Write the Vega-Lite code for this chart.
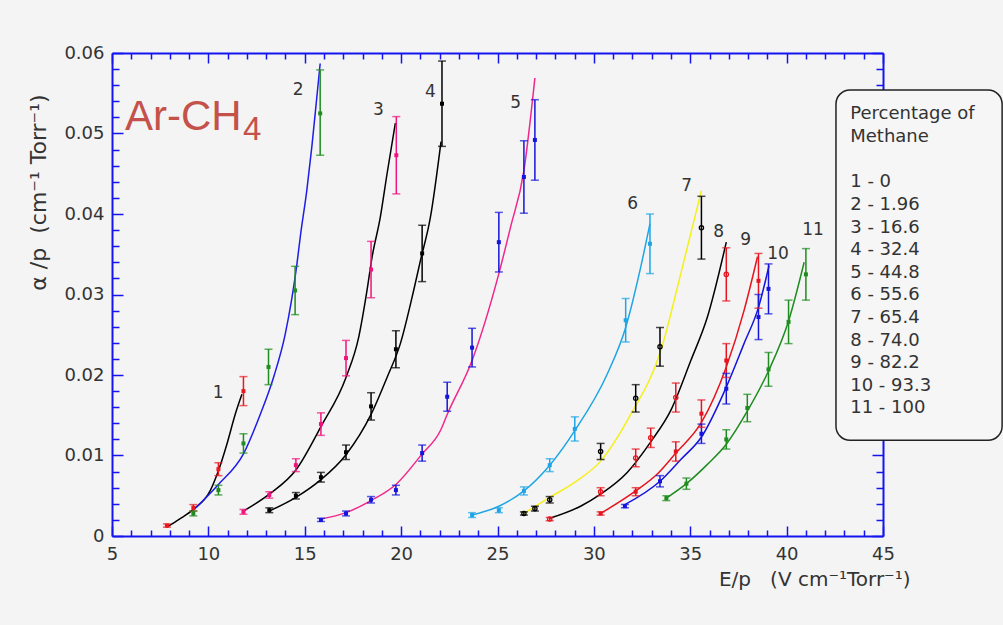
{
  "$schema": "https://vega.github.io/schema/vega-lite/v6.json",
  "width": 771,
  "height": 483,
  "autosize": {"type": "none"},
  "padding": {"left": 112, "top": 53, "right": 120, "bottom": 89},
  "background": "#f4f4f4",
  "config": {"view": {"stroke": null}, "font": "DejaVu Sans"},
  "datasets": {
    "pts": [
      {"s": "1", "x": 7.85, "y": 0.0013, "lo": 0.0011, "hi": 0.0015},
      {"s": "1", "x": 9.22, "y": 0.0035, "lo": 0.0031, "hi": 0.0039},
      {"s": "1", "x": 10.52, "y": 0.0083, "lo": 0.0075, "hi": 0.0091},
      {"s": "1", "x": 11.82, "y": 0.018, "lo": 0.0162, "hi": 0.0198},
      {"s": "2", "x": 9.22, "y": 0.0028, "lo": 0.0025, "hi": 0.0031},
      {"s": "2", "x": 10.52, "y": 0.0057, "lo": 0.0051, "hi": 0.0063},
      {"s": "2", "x": 11.82, "y": 0.0115, "lo": 0.0103, "hi": 0.0127},
      {"s": "2", "x": 13.12, "y": 0.021, "lo": 0.0188, "hi": 0.0232},
      {"s": "2", "x": 14.5, "y": 0.0305, "lo": 0.0275, "hi": 0.0335},
      {"s": "2", "x": 15.8, "y": 0.0525, "lo": 0.0473, "hi": 0.0579},
      {"s": "3", "x": 11.82, "y": 0.003, "lo": 0.0027, "hi": 0.0033},
      {"s": "3", "x": 13.16, "y": 0.0051, "lo": 0.0047, "hi": 0.0055},
      {"s": "3", "x": 14.54, "y": 0.0088, "lo": 0.008, "hi": 0.0096},
      {"s": "3", "x": 15.84, "y": 0.0139, "lo": 0.0125, "hi": 0.0153},
      {"s": "3", "x": 17.14, "y": 0.0221, "lo": 0.0199, "hi": 0.0243},
      {"s": "3", "x": 18.44, "y": 0.0331, "lo": 0.0296, "hi": 0.0366},
      {"s": "3", "x": 19.75, "y": 0.0473, "lo": 0.0425, "hi": 0.0521},
      {"s": "4", "x": 13.16, "y": 0.0032, "lo": 0.0029, "hi": 0.0035},
      {"s": "4", "x": 14.54, "y": 0.005, "lo": 0.0046, "hi": 0.0054},
      {"s": "4", "x": 15.84, "y": 0.0073, "lo": 0.0067, "hi": 0.0079},
      {"s": "4", "x": 17.14, "y": 0.0104, "lo": 0.0095, "hi": 0.0113},
      {"s": "4", "x": 18.44, "y": 0.0161, "lo": 0.0144, "hi": 0.0178},
      {"s": "4", "x": 19.73, "y": 0.0232, "lo": 0.0209, "hi": 0.0255},
      {"s": "4", "x": 21.09, "y": 0.0351, "lo": 0.0316, "hi": 0.0386},
      {"s": "4", "x": 22.12, "y": 0.0537, "lo": 0.0484, "hi": 0.059},
      {"s": "5", "x": 15.84, "y": 0.002, "lo": 0.0018, "hi": 0.0022},
      {"s": "5", "x": 17.14, "y": 0.0028, "lo": 0.0025, "hi": 0.0031},
      {"s": "5", "x": 18.44, "y": 0.0045, "lo": 0.0041, "hi": 0.0049},
      {"s": "5", "x": 19.73, "y": 0.0057, "lo": 0.0051, "hi": 0.0063},
      {"s": "5", "x": 21.09, "y": 0.0103, "lo": 0.0093, "hi": 0.0113},
      {"s": "5", "x": 22.39, "y": 0.0173, "lo": 0.0155, "hi": 0.0191},
      {"s": "5", "x": 23.68, "y": 0.0234, "lo": 0.021, "hi": 0.0258},
      {"s": "5", "x": 25.07, "y": 0.0365, "lo": 0.0328, "hi": 0.0402},
      {"s": "5", "x": 26.37, "y": 0.0446, "lo": 0.0401, "hi": 0.0491},
      {"s": "5", "x": 26.94, "y": 0.0492, "lo": 0.0442, "hi": 0.0542},
      {"s": "6", "x": 23.68, "y": 0.0026, "lo": 0.0023, "hi": 0.0029},
      {"s": "6", "x": 25.07, "y": 0.0032, "lo": 0.0029, "hi": 0.0035},
      {"s": "6", "x": 26.37, "y": 0.0056, "lo": 0.0051, "hi": 0.0061},
      {"s": "6", "x": 27.71, "y": 0.0088, "lo": 0.008, "hi": 0.0096},
      {"s": "6", "x": 29.01, "y": 0.0133, "lo": 0.0118, "hi": 0.0148},
      {"s": "6", "x": 31.65, "y": 0.0268, "lo": 0.0241, "hi": 0.0295},
      {"s": "6", "x": 32.91, "y": 0.0363, "lo": 0.0326, "hi": 0.04},
      {"s": "7", "x": 26.37, "y": 0.0028, "lo": 0.0026, "hi": 0.003},
      {"s": "7", "x": 26.94, "y": 0.0034, "lo": 0.0031, "hi": 0.0037},
      {"s": "7", "x": 27.71, "y": 0.0045, "lo": 0.0041, "hi": 0.0049},
      {"s": "7", "x": 30.35, "y": 0.0105, "lo": 0.0095, "hi": 0.0115},
      {"s": "7", "x": 32.17, "y": 0.0171, "lo": 0.0154, "hi": 0.0188},
      {"s": "7", "x": 33.43, "y": 0.0235, "lo": 0.0211, "hi": 0.0259},
      {"s": "7", "x": 35.58, "y": 0.0383, "lo": 0.0344, "hi": 0.0422},
      {"s": "8", "x": 27.71, "y": 0.0021, "lo": 0.0019, "hi": 0.0023},
      {"s": "8", "x": 30.35, "y": 0.0055, "lo": 0.005, "hi": 0.006},
      {"s": "8", "x": 32.17, "y": 0.0097, "lo": 0.0086, "hi": 0.0108},
      {"s": "8", "x": 32.95, "y": 0.0122, "lo": 0.011, "hi": 0.0134},
      {"s": "8", "x": 34.25, "y": 0.0172, "lo": 0.0154, "hi": 0.019},
      {"s": "8", "x": 36.87, "y": 0.0325, "lo": 0.0292, "hi": 0.0358},
      {"s": "9", "x": 30.35, "y": 0.0028, "lo": 0.0026, "hi": 0.003},
      {"s": "9", "x": 32.17, "y": 0.0055, "lo": 0.005, "hi": 0.006},
      {"s": "9", "x": 34.25, "y": 0.0105, "lo": 0.0093, "hi": 0.0117},
      {"s": "9", "x": 35.58, "y": 0.0152, "lo": 0.0135, "hi": 0.0169},
      {"s": "9", "x": 36.87, "y": 0.0218, "lo": 0.0197, "hi": 0.0239},
      {"s": "9", "x": 38.54, "y": 0.0317, "lo": 0.0283, "hi": 0.0351},
      {"s": "10", "x": 31.61, "y": 0.0037, "lo": 0.0035, "hi": 0.0039},
      {"s": "10", "x": 33.43, "y": 0.0068, "lo": 0.0061, "hi": 0.0075},
      {"s": "10", "x": 35.58, "y": 0.0127, "lo": 0.0115, "hi": 0.0139},
      {"s": "10", "x": 36.87, "y": 0.0183, "lo": 0.0164, "hi": 0.0202},
      {"s": "10", "x": 38.54, "y": 0.0272, "lo": 0.0244, "hi": 0.03},
      {"s": "10", "x": 39.06, "y": 0.0307, "lo": 0.0276, "hi": 0.0338},
      {"s": "11", "x": 33.76, "y": 0.0047, "lo": 0.0044, "hi": 0.005},
      {"s": "11", "x": 34.8, "y": 0.0065, "lo": 0.0058, "hi": 0.0072},
      {"s": "11", "x": 36.87, "y": 0.012, "lo": 0.0108, "hi": 0.0132},
      {"s": "11", "x": 37.96, "y": 0.0159, "lo": 0.0142, "hi": 0.0176},
      {"s": "11", "x": 39.06, "y": 0.0207, "lo": 0.0186, "hi": 0.0228},
      {"s": "11", "x": 40.1, "y": 0.0266, "lo": 0.0239, "hi": 0.0293},
      {"s": "11", "x": 41.0, "y": 0.0325, "lo": 0.0293, "hi": 0.0357}
    ],
    "fit": [
      {"s": "1", "x": 7.84, "y": 0.0011},
      {"s": "1", "x": 8.5, "y": 0.0021},
      {"s": "1", "x": 9.22, "y": 0.0033},
      {"s": "1", "x": 10.09, "y": 0.0056},
      {"s": "1", "x": 10.52, "y": 0.0081},
      {"s": "1", "x": 10.96, "y": 0.0114},
      {"s": "1", "x": 11.39, "y": 0.0151},
      {"s": "1", "x": 11.74, "y": 0.0176},
      {"s": "2", "x": 9.22, "y": 0.0032},
      {"s": "2", "x": 10.52, "y": 0.0064},
      {"s": "2", "x": 11.82, "y": 0.0102},
      {"s": "2", "x": 12.69, "y": 0.0151},
      {"s": "2", "x": 13.38, "y": 0.0197},
      {"s": "2", "x": 13.99, "y": 0.0251},
      {"s": "2", "x": 14.6, "y": 0.0339},
      {"s": "2", "x": 14.77, "y": 0.0372},
      {"s": "2", "x": 15.11, "y": 0.043},
      {"s": "2", "x": 15.37, "y": 0.0484},
      {"s": "2", "x": 15.63, "y": 0.0546},
      {"s": "2", "x": 15.8, "y": 0.0587},
      {"s": "3", "x": 11.82, "y": 0.0031},
      {"s": "3", "x": 13.16, "y": 0.0052},
      {"s": "3", "x": 14.54, "y": 0.0082},
      {"s": "3", "x": 15.84, "y": 0.0136},
      {"s": "3", "x": 17.14, "y": 0.0197},
      {"s": "3", "x": 17.8, "y": 0.0247},
      {"s": "3", "x": 18.23, "y": 0.0305},
      {"s": "3", "x": 18.49, "y": 0.0346},
      {"s": "3", "x": 18.92, "y": 0.0396},
      {"s": "3", "x": 19.27, "y": 0.045},
      {"s": "3", "x": 19.7, "y": 0.0513},
      {"s": "4", "x": 13.16, "y": 0.0031},
      {"s": "4", "x": 14.54, "y": 0.0048},
      {"s": "4", "x": 15.84, "y": 0.007},
      {"s": "4", "x": 17.14, "y": 0.0101},
      {"s": "4", "x": 18.44, "y": 0.0151},
      {"s": "4", "x": 19.27, "y": 0.0197},
      {"s": "4", "x": 19.96, "y": 0.0239},
      {"s": "4", "x": 20.65, "y": 0.0305},
      {"s": "4", "x": 21.0, "y": 0.0342},
      {"s": "4", "x": 21.52, "y": 0.0396},
      {"s": "4", "x": 22.07, "y": 0.049},
      {"s": "5", "x": 15.84, "y": 0.0021},
      {"s": "5", "x": 17.14, "y": 0.0029},
      {"s": "5", "x": 18.44, "y": 0.0044},
      {"s": "5", "x": 19.73, "y": 0.0064},
      {"s": "5", "x": 21.09, "y": 0.0102},
      {"s": "5", "x": 22.04, "y": 0.0131},
      {"s": "5", "x": 22.39, "y": 0.0151},
      {"s": "5", "x": 23.68, "y": 0.0218},
      {"s": "5", "x": 25.07, "y": 0.0326},
      {"s": "5", "x": 25.68, "y": 0.0384},
      {"s": "5", "x": 26.37, "y": 0.0454},
      {"s": "5", "x": 26.94, "y": 0.0569},
      {"s": "6", "x": 23.68, "y": 0.0026},
      {"s": "6", "x": 25.07, "y": 0.0037},
      {"s": "6", "x": 26.37, "y": 0.0056},
      {"s": "6", "x": 27.71, "y": 0.0088},
      {"s": "6", "x": 29.01, "y": 0.0131},
      {"s": "6", "x": 30.69, "y": 0.0201},
      {"s": "6", "x": 31.65, "y": 0.0259},
      {"s": "6", "x": 32.43, "y": 0.0334},
      {"s": "6", "x": 32.91, "y": 0.0388},
      {"s": "7", "x": 26.37, "y": 0.0028},
      {"s": "7", "x": 27.71, "y": 0.0048},
      {"s": "7", "x": 28.96, "y": 0.0066},
      {"s": "7", "x": 30.35, "y": 0.0093},
      {"s": "7", "x": 31.91, "y": 0.0151},
      {"s": "7", "x": 33.47, "y": 0.023},
      {"s": "7", "x": 34.51, "y": 0.0326},
      {"s": "7", "x": 35.58, "y": 0.0429},
      {"s": "8", "x": 27.71, "y": 0.0022},
      {"s": "8", "x": 29.31, "y": 0.0037},
      {"s": "8", "x": 30.35, "y": 0.0052},
      {"s": "8", "x": 31.73, "y": 0.0079},
      {"s": "8", "x": 32.95, "y": 0.0117},
      {"s": "8", "x": 33.99, "y": 0.0156},
      {"s": "8", "x": 35.03, "y": 0.0218},
      {"s": "8", "x": 35.89, "y": 0.0272},
      {"s": "8", "x": 36.87, "y": 0.0365},
      {"s": "9", "x": 30.35, "y": 0.0028},
      {"s": "9", "x": 32.17, "y": 0.0056},
      {"s": "9", "x": 33.29, "y": 0.0077},
      {"s": "9", "x": 34.25, "y": 0.0103},
      {"s": "9", "x": 35.58, "y": 0.0141},
      {"s": "9", "x": 36.87, "y": 0.021},
      {"s": "9", "x": 37.79, "y": 0.028},
      {"s": "9", "x": 38.49, "y": 0.0347},
      {"s": "10", "x": 31.61, "y": 0.0039},
      {"s": "10", "x": 33.43, "y": 0.0068},
      {"s": "10", "x": 34.51, "y": 0.0095},
      {"s": "10", "x": 35.58, "y": 0.0123},
      {"s": "10", "x": 36.87, "y": 0.0185},
      {"s": "10", "x": 37.79, "y": 0.0239},
      {"s": "10", "x": 38.54, "y": 0.0284},
      {"s": "10", "x": 39.09, "y": 0.0336},
      {"s": "11", "x": 33.76, "y": 0.0047},
      {"s": "11", "x": 34.8, "y": 0.0065},
      {"s": "11", "x": 35.89, "y": 0.0089},
      {"s": "11", "x": 36.87, "y": 0.0114},
      {"s": "11", "x": 37.96, "y": 0.0155},
      {"s": "11", "x": 39.06, "y": 0.0205},
      {"s": "11", "x": 40.1, "y": 0.0267},
      {"s": "11", "x": 40.91, "y": 0.034}
    ],
    "lab": [
      {"t": "1", "x": 10.51, "y": 0.0178},
      {"t": "2", "x": 14.66, "y": 0.0554},
      {"t": "3", "x": 18.82, "y": 0.0529},
      {"t": "4", "x": 21.52, "y": 0.0552},
      {"t": "5", "x": 25.94, "y": 0.0538},
      {"t": "6", "x": 32.01, "y": 0.0412},
      {"t": "7", "x": 34.82, "y": 0.0435},
      {"t": "8", "x": 36.48, "y": 0.0378},
      {"t": "9", "x": 37.88, "y": 0.0368},
      {"t": "10", "x": 39.55, "y": 0.035},
      {"t": "11", "x": 41.37, "y": 0.038}
    ],
    "ann": [
      {"t": "Ar-CH", "sub": "4", "x": 5.675, "xs": 11.8, "y": 0.0504, "ys": 0.0492}
    ],
    "leg": [
      {"part": "head", "lines": ["Percentage of", "Methane"]},
      {"part": "body", "lines": ["1 - 0", "2 - 1.96", "3 - 16.6", "4 - 32.4", "5 - 44.8", "6 - 55.6", "7 - 65.4", "8 - 74.0", "9 - 82.2", "10 - 93.3", "11 - 100"]}
    ]
  },
  "layer": [
    {
      "data": {"name": "fit"},
      "mark": {"type": "line", "strokeWidth": 1.5, "interpolate": "monotone"},
      "encoding": {
        "x": {
          "field": "x", "type": "quantitative",
          "scale": {"domain": [5, 45], "nice": false, "zero": false},
          "axis": {
            "orient": "bottom",
            "values": [5,6,7,8,9,10,11,12,13,14,15,16,17,18,19,20,21,22,23,24,25,26,27,28,29,30,31,32,33,34,35,36,37,38,39,40,41,42,43,44,45],
            "grid": false,
            "domainColor": "#1414f0", "domainWidth": 2,
            "tickColor": "#1414f0", "tickWidth": 1.5,
            "tickSize": {"condition": {"test": "datum.value % 5 === 0", "value": -10}, "value": -6},
            "labelExpr": "datum.value % 5 === 0 ? datum.label : ''",
            "labelOverlap": false, "labelFlush": false,
            "labelFontSize": 18, "labelColor": "#333333", "labelPadding": 19,
            "title": "E/p\u00a0\u00a0\u00a0(V cm⁻¹Torr⁻¹)",
            "titleFontSize": 20, "titleFontWeight": "normal", "titleColor": "#333333",
            "titleAlign": "right", "titleBaseline": "middle",
            "titleX": 798, "titleY": 43
          }
        },
        "y": {
          "field": "y", "type": "quantitative",
          "scale": {"domain": [0, 0.06], "nice": false, "zero": false},
          "axis": {
            "orient": "left",
            "values": [0,0.002,0.004,0.006,0.008,0.01,0.012,0.014,0.016,0.018,0.02,0.022,0.024,0.026,0.028,0.03,0.032,0.034,0.036,0.038,0.04,0.042,0.044,0.046,0.048,0.05,0.052,0.054,0.056,0.058,0.06],
            "grid": false,
            "domainColor": "#1414f0", "domainWidth": 2,
            "tickColor": "#1414f0", "tickWidth": 1.5,
            "tickSize": {"condition": {"test": "round(datum.value * 1000) % 10 === 0", "value": -11}, "value": -7},
            "labelExpr": "round(datum.value * 1000) % 10 === 0 ? (datum.value === 0 ? '0' : format(datum.value, '.2f')) : ''",
            "labelOverlap": false, "labelFlush": false,
            "labelFontSize": 18, "labelColor": "#333333", "labelPadding": 19,
            "title": "α /p\u00a0\u00a0(cm⁻¹ Torr⁻¹)",
            "titleFontSize": 22, "titleFontWeight": "normal", "titleColor": "#333333",
            "titleAngle": -90, "titleAlign": "center", "titleBaseline": "middle",
            "titleX": -74, "titleY": 139
          }
        },
        "stroke": {
          "field": "s", "type": "nominal",
          "scale": {"domain": ["1","2","3","4","5","6","7","8","9","10","11"], "range": ["#000000","#1e1ee6","#000000","#000000","#f0288c","#1ea5e6","#f5ef1a","#000000","#e6141e","#1414dc","#1e8c1e"]},
          "legend": null
        }
      }
    },
    {
      "data": {"name": "pts"},
      "mark": {"type": "rule", "strokeWidth": 1.5},
      "encoding": {
        "x": {
          "field": "x", "type": "quantitative",
          "axis": {
            "orient": "top",
            "values": [5,6,7,8,9,10,11,12,13,14,15,16,17,18,19,20,21,22,23,24,25,26,27,28,29,30,31,32,33,34,35,36,37,38,39,40,41,42,43,44,45],
            "grid": false, "labels": false, "title": null,
            "domainColor": "#1414f0", "domainWidth": 2,
            "tickColor": "#1414f0", "tickWidth": 1.5,
            "tickSize": {"condition": {"test": "datum.value % 5 === 0", "value": -10}, "value": -6}
          }
        },
        "y": {
          "field": "lo", "type": "quantitative",
          "axis": {
            "orient": "right",
            "values": [0,0.002,0.004,0.006,0.008,0.01,0.012,0.014,0.016,0.018,0.02,0.022,0.024,0.026,0.028,0.03,0.032,0.034,0.036,0.038,0.04,0.042,0.044,0.046,0.048,0.05,0.052,0.054,0.056,0.058,0.06],
            "grid": false, "labels": false, "title": null,
            "domainColor": "#1414f0", "domainWidth": 2,
            "tickColor": "#1414f0", "tickWidth": 1.5,
            "tickSize": {"condition": {"test": "round(datum.value * 1000) % 10 === 0", "value": -11}, "value": -7}
          }
        },
        "y2": {"field": "hi"},
        "color": {
          "field": "s", "type": "nominal",
          "scale": {"domain": ["1","2","3","4","5","6","7","8","9","10","11"], "range": ["#e8191f","#1e8c1e","#f0147c","#000000","#1414dc","#1ea5e6","#000000","#e6141e","#e6141e","#1414dc","#1e8c1e"]},
          "legend": null
        }
      }
    },
    {
      "data": {"name": "pts"},
      "mark": {"type": "tick", "orient": "horizontal", "size": 8, "thickness": 1.5},
      "encoding": {
        "x": {"field": "x", "type": "quantitative", "axis": null},
        "y": {"field": "lo", "type": "quantitative", "axis": null},
        "color": {"field": "s", "type": "nominal", "legend": null}
      }
    },
    {
      "data": {"name": "pts"},
      "mark": {"type": "tick", "orient": "horizontal", "size": 8, "thickness": 1.5},
      "encoding": {
        "x": {"field": "x", "type": "quantitative", "axis": null},
        "y": {"field": "hi", "type": "quantitative", "axis": null},
        "color": {"field": "s", "type": "nominal", "legend": null}
      }
    },
    {
      "data": {"name": "pts"},
      "transform": [{"filter": "datum.s !== '7' && datum.s !== '8'"}],
      "mark": {"type": "point", "shape": "square", "filled": true, "size": 16, "opacity": 1},
      "encoding": {
        "x": {"field": "x", "type": "quantitative", "axis": null},
        "y": {"field": "y", "type": "quantitative", "axis": null},
        "color": {"field": "s", "type": "nominal", "legend": null}
      }
    },
    {
      "data": {"name": "pts"},
      "transform": [{"filter": "datum.s === '7' || datum.s === '8'"}],
      "mark": {"type": "point", "shape": "circle", "filled": false, "size": 18, "strokeWidth": 1.3, "opacity": 1},
      "encoding": {
        "x": {"field": "x", "type": "quantitative", "axis": null},
        "y": {"field": "y", "type": "quantitative", "axis": null},
        "color": {"field": "s", "type": "nominal", "legend": null}
      }
    },
    {
      "data": {"name": "lab"},
      "mark": {"type": "text", "fontSize": 17, "color": "#333333", "align": "center", "baseline": "middle"},
      "encoding": {
        "x": {"field": "x", "type": "quantitative", "axis": null},
        "y": {"field": "y", "type": "quantitative", "axis": null},
        "text": {"field": "t"}
      }
    },
    {
      "data": {"name": "ann"},
      "mark": {"type": "text", "font": "Liberation Sans", "fontSize": 42, "color": "#c4524a", "align": "left", "baseline": "alphabetic"},
      "encoding": {
        "x": {"field": "x", "type": "quantitative", "axis": null},
        "y": {"field": "y", "type": "quantitative", "axis": null},
        "text": {"field": "t"}
      }
    },
    {
      "data": {"name": "ann"},
      "mark": {"type": "text", "font": "Liberation Sans", "fontSize": 33, "color": "#c4524a", "align": "left", "baseline": "alphabetic"},
      "encoding": {
        "x": {"field": "xs", "type": "quantitative", "axis": null},
        "y": {"field": "ys", "type": "quantitative", "axis": null},
        "text": {"field": "sub"}
      }
    },
    {
      "data": {"name": "leg"},
      "transform": [{"filter": "datum.part === 'head'"}],
      "mark": {"type": "rect", "fill": "#f6f6f6", "stroke": "#222222", "strokeWidth": 1.5, "cornerRadius": 14},
      "encoding": {
        "x": {"datum": 42.56, "type": "quantitative", "axis": null},
        "x2": {"datum": 51.18},
        "y": {"datum": 0.0554, "type": "quantitative", "axis": null},
        "y2": {"datum": 0.0119}
      }
    },
    {
      "data": {"name": "leg"},
      "transform": [{"filter": "datum.part === 'head'"}],
      "mark": {"type": "text", "fontSize": 18, "color": "#333333", "align": "left", "baseline": "alphabetic", "lineHeight": 22.6},
      "encoding": {
        "x": {"datum": 43.3, "type": "quantitative", "axis": null},
        "y": {"datum": 0.0518, "type": "quantitative", "axis": null},
        "text": {"field": "lines"}
      }
    },
    {
      "data": {"name": "leg"},
      "transform": [{"filter": "datum.part === 'body'"}],
      "mark": {"type": "text", "fontSize": 18, "color": "#333333", "align": "left", "baseline": "alphabetic", "lineHeight": 22.6},
      "encoding": {
        "x": {"datum": 43.3, "type": "quantitative", "axis": null},
        "y": {"datum": 0.0433, "type": "quantitative", "axis": null},
        "text": {"field": "lines"}
      }
    }
  ],
  "resolve": {"axis": {"x": "independent", "y": "independent"}}
}
